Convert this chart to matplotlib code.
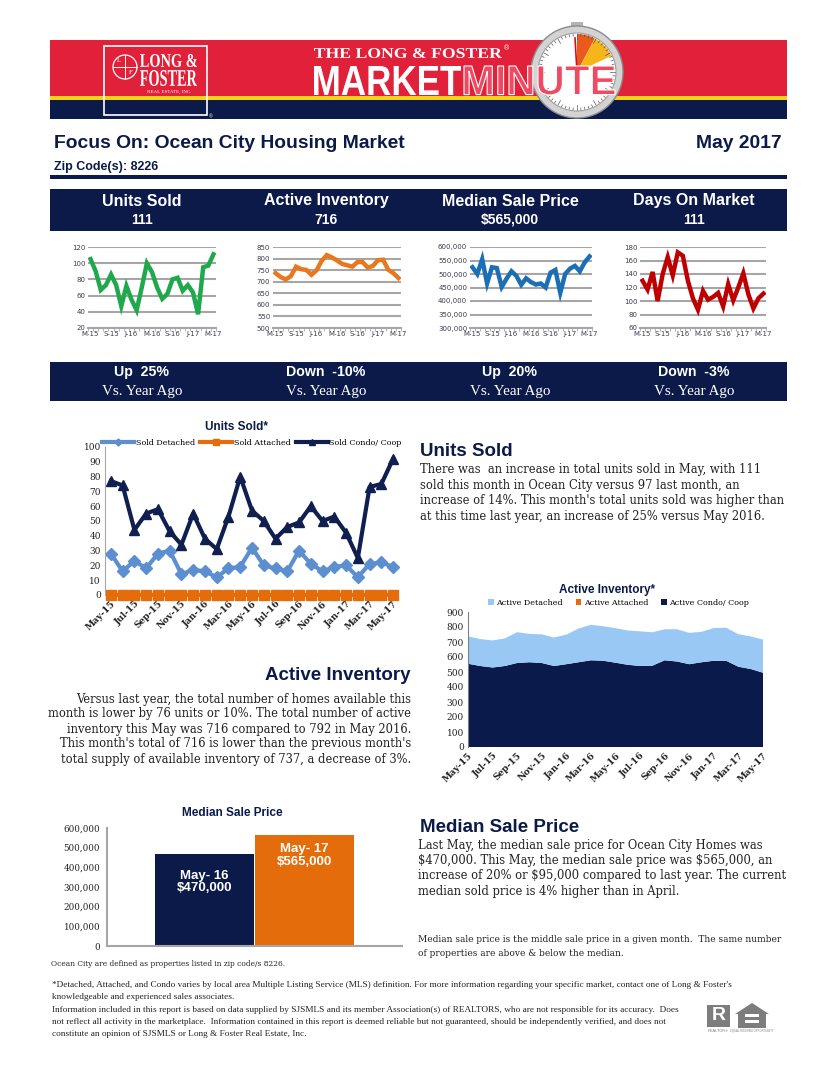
import math
import matplotlib.pyplot as plt
from matplotlib.font_manager import FontProperties
from matplotlib.patches import Rectangle, Circle, Wedge, Polygon, PathPatch
from matplotlib.textpath import TextPath
from matplotlib.transforms import Affine2D
from matplotlib.ticker import FuncFormatter, MultipleLocator

plt.rcParams['text.parse_math'] = False

W, H = 834, 1080
NAVY = '#0b1a48'
RED = '#e1203a'
ORANGE = '#e46c0a'
GRID = '#a6a6a6'
SANS = 'Liberation Sans'
SERIF = 'DejaVu Serif'
TIMES = 'Liberation Serif'

# ---------------- data ----------------
months = ['May-15', 'Jun-15', 'Jul-15', 'Aug-15', 'Sep-15', 'Oct-15', 'Nov-15', 'Dec-15',
          'Jan-16', 'Feb-16', 'Mar-16', 'Apr-16', 'May-16', 'Jun-16', 'Jul-16', 'Aug-16',
          'Sep-16', 'Oct-16', 'Nov-16', 'Dec-16', 'Jan-17', 'Feb-17', 'Mar-17', 'Apr-17', 'May-17']
spark_ticks = ['M-15', 'S-15', 'J-16', 'M-16', 'S-16', 'J-17', 'M-17']

units_total = [105, 90, 67, 73, 86, 73, 47, 72, 55, 42, 70, 100, 89, 70, 56, 62, 80, 82, 66, 73, 64, 37, 95, 97, 111]
inventory_total = [737, 720, 710, 724, 765, 754, 751, 730, 749, 790, 815, 805, 792, 777, 771, 765, 785, 785, 761, 768, 793, 795, 752, 737, 716]
median_price = [525000, 500000, 555000, 465000, 525000, 522000, 452000, 483000, 510000, 493000, 460000, 484000, 470000,
                461000, 465000, 450000, 505000, 515000, 430000, 500000, 520000, 530000, 510000, 543000, 565000]
days_on_market = [130, 117, 143, 100, 140, 165, 138, 172, 167, 130, 104, 87, 115, 102, 106, 112, 92, 125, 101, 120, 141, 110, 89, 104, 111]

sold_detached = [28, 16, 23, 18, 28, 30, 14, 17, 16, 12, 18, 19, 32, 20, 18, 16, 30, 21, 16, 19, 20, 12, 21, 22, 19]
sold_attached = [0, 0, 0, 0, 0, 0, 0, 0, 0, 0, 0, 0, 0, 0, 0, 0, 0, 0, 0, 0, 0, 0, 0, 0, 0]
sold_condo = [77, 74, 44, 55, 58, 43, 34, 55, 38, 31, 53, 80, 57, 50, 38, 46, 49, 60, 50, 53, 42, 25, 73, 75, 92]

active_detached = [182, 180, 180, 184, 205, 189, 191, 190, 197, 225, 237, 230, 230, 229, 231, 223, 207, 215, 209, 203, 218, 220, 217, 217, 221]
active_attached = [0, 0, 0, 0, 0, 0, 0, 0, 0, 0, 0, 0, 0, 0, 0, 0, 0, 0, 0, 0, 0, 0, 0, 0, 0]
active_condo = [555, 540, 530, 540, 560, 565, 560, 540, 552, 565, 578, 575, 562, 548, 540, 542, 578, 570, 552, 565, 575, 575, 535, 520, 495]

summary_titles = ['Units Sold', 'Active Inventory', 'Median Sale Price', 'Days On Market']
summary_values = ['111', '716', '$565,000', '111']
summary_change = ['Up  25%', 'Down  -10%', 'Up  20%', 'Down  -3%']

compare_labels = ['May- 16', 'May- 17']
compare_prices = [470000, 565000]

# ---------------- helpers ----------------
fig = plt.figure(figsize=(W / 100, H / 100), dpi=100)
fig.patch.set_facecolor('white')
bg = fig.add_axes([0, 0, 1, 1])
bg.set_xlim(0, W)
bg.set_ylim(H, 0)
bg.axis('off')


def box(x0, y0, x1, y1):
    return [x0 / W, 1 - y1 / H, (x1 - x0) / W, (y1 - y0) / H]


def rect(x0, y0, x1, y1, **kw):
    bg.add_patch(Rectangle((x0, y0), x1 - x0, y1 - y0, lw=0, **kw))


def squeeze(s, x0, y0, x1, y1, family=SANS, **kw):
    # text path stretched into a pixel box
    tp = TextPath((0, 0), s, size=100, prop=FontProperties(family=family, weight='bold'))
    bb = tp.get_extents()
    tr = Affine2D().translate(-bb.x0, -bb.y0).scale((x1 - x0) / bb.width, -(y1 - y0) / bb.height).translate(x0, y1)
    bg.add_patch(PathPatch(tr.transform_path(tp), **kw))


def put(x, y, s, size, family=SANS, weight='normal', color='#222222', **kw):
    kw.setdefault('va', 'center')
    bg.text(x, y, s, fontsize=size, family=family, weight=weight, color=color, **kw)


# ---------------- header ----------------
rect(50, 40, 787, 96, color=RED)
rect(50, 96, 787, 100, color='#f7d117')
rect(50, 100, 787, 119, color=NAVY)

bg.add_patch(Rectangle((104, 46), 103, 69, fill=False, ec='white', lw=1.2))
bg.add_patch(Circle((125, 67), 12, fill=False, ec='white', lw=0.9))
bg.plot([113, 137], [67, 67], color='white', lw=0.7)
bg.plot([125, 125], [55, 79], color='white', lw=0.7)
put(119, 61, 'L', 5, family=TIMES, color='white', ha='center')
put(131, 73, 'F', 5, family=TIMES, color='white', ha='center')
squeeze('LONG &', 140, 54, 197, 67, family=TIMES, fc='white', lw=0)
squeeze('FOSTER', 140, 70, 197, 86, family=TIMES, fc='white', lw=0)
put(169, 92, 'REAL ESTATE, INC.', 3.6, family=TIMES, color='white', ha='center')
put(211, 117, '®', 3.5, color='white', ha='center')

squeeze('THE LONG & FOSTER', 314, 48, 502, 58, family=TIMES, fc='white', lw=0)
put(507, 49, '®', 5, color='white', ha='center')

cx, cy = 577, 72
rect(571, 22, 583, 29, color='#b5b5b5', zorder=3)
bg.add_patch(Circle((cx, cy), 46, fc='#d3d3d3', ec='#8c8c8c', lw=1, zorder=3))
bg.add_patch(Circle((cx, cy), 39, fc='white', ec='#a0a0a0', lw=0.8, zorder=3))
bg.add_patch(Wedge((cx, cy), 38, 270, 298, fc='#ea5a1c', lw=0, zorder=3))
bg.add_patch(Wedge((cx, cy), 38, 298, 335, fc='#f6b61a', lw=0, zorder=3))
for k in range(60):
    a = math.radians(k * 6)
    r0 = 33 if k % 5 == 0 else 36
    bg.plot([cx + r0 * math.cos(a), cx + 38 * math.cos(a)], [cy + r0 * math.sin(a), cy + 38 * math.sin(a)],
            color='#555555', lw=0.5, zorder=3)
bg.plot([cx, cx - 2], [cy, cy - 34], color='#d01020', lw=1.2, zorder=3)

squeeze('MARKET', 314, 66, 461, 95, fc='white', lw=0, zorder=4)
squeeze('MINUTE', 464, 66, 615, 95, fc='#ee4a62', ec='white', lw=0.8, zorder=4)

# ---------------- title row ----------------
put(54, 143, 'Focus On: Ocean City Housing Market', 13.9, weight='bold', color=NAVY)
put(782, 143, 'May 2017', 13.9, weight='bold', color=NAVY, ha='right')
put(54, 167, 'Zip Code(s): 8226', 9, weight='bold', color=NAVY)
rect(50, 175, 787, 179, color=NAVY)

centers = [142, 326, 510, 694]
rect(50, 189, 787, 231, color=NAVY)
rect(50, 362, 787, 401, color=NAVY)
for c, t, v, ch in zip(centers, summary_titles, summary_values, summary_change):
    put(c, 201, t, 11.5, weight='bold', color='white', ha='center')
    put(c, 220, v, 10, weight='bold', color='white', ha='center')
    put(c, 372, ch, 10.2, weight='bold', color='white', ha='center')
    put(c, 391, 'Vs. Year Ago', 10.9, family=TIMES, color='white', ha='center')


# ---------------- sparkline charts ----------------
def spark(area, values, color, lo, hi, step, comma=False):
    ax = fig.add_axes(box(*area))
    n = len(values)
    ax.plot(range(n), values, color=color, lw=3.2, solid_joinstyle='miter')
    ax.set_xlim(-0.5, n - 0.5)
    ax.set_ylim(lo, hi)
    ax.yaxis.set_major_locator(MultipleLocator(step))
    if comma:
        ax.yaxis.set_major_formatter(FuncFormatter(lambda v, p: f'{v:,.0f}'))
    ax.grid(axis='y', color=GRID, lw=1.5)
    ax.set_axisbelow(True)
    for s in ['top', 'right', 'left']:
        ax.spines[s].set_visible(False)
    ax.spines['bottom'].set_color(GRID)
    ax.spines['bottom'].set_linewidth(1.5)
    ax.set_xticks(range(0, n, 4))
    ax.set_xticklabels(spark_ticks)
    ax.set_xticks([i - 0.5 for i in range(n + 1)], minor=True)
    ax.tick_params(axis='x', which='minor', length=2, color=GRID)
    ax.tick_params(axis='both', which='major', length=0, labelsize=5, labelcolor='#3c3c50', pad=2)
    return ax


spark((88, 247, 216, 328), units_total, '#1fa84c', 20, 120, 20)
spark((273, 247, 401, 328), inventory_total, '#e8781e', 500, 850, 50)
spark((470, 247, 592, 328), median_price, '#1b6fb5', 300000, 600000, 50000, comma=True)
spark((640, 247, 766, 328), days_on_market, '#c00000', 60, 180, 20)

x = range(len(months))

# ---------------- units sold chart ----------------
put(237, 427, 'Units Sold*', 8.5, weight='bold', color=NAVY, ha='center')
ax = fig.add_axes(box(105, 447, 399, 595))
ax.plot(x, sold_detached, color='#5b8fcf', lw=3, marker='D', ms=6, label='Sold Detached', clip_on=False)
ax.plot(x, sold_attached, color=ORANGE, lw=3, marker='s', ms=6.5, label='Sold Attached', clip_on=False)
ax.plot(x, sold_condo, color='#0f1f50', lw=3, marker='^', ms=7, label='Sold Condo/ Coop', clip_on=False)
ax.set_xlim(-0.5, len(months) - 0.5)
ax.set_ylim(0, 100)
ax.yaxis.set_major_locator(MultipleLocator(10))
ax.set_xticks(range(0, len(months), 2))
ax.set_xticklabels(months[::2], rotation=45, ha='right', rotation_mode='anchor',
                   fontsize=6.8, family=SERIF, weight='bold', color='#222222')
for lab in ax.get_yticklabels():
    lab.set_family(SERIF)
ax.tick_params(length=0, labelsize=6.5, labelcolor='#222222', pad=3)
for s in ['top', 'right', 'bottom']:
    ax.spines[s].set_visible(False)
ax.spines['left'].set_color(GRID)
ax.patch.set_alpha(0)
ax.legend(loc='center', bbox_to_anchor=(0.5, 1.027), ncol=3, frameon=False, handlelength=4,
          columnspacing=0.6, handletextpad=0.2, markerscale=0.6,
          prop=FontProperties(family=SERIF, size=5.8))

put(420, 451, 'Units Sold', 13.5, weight='bold', color=NAVY)
units_text = ["There was  an increase in total units sold in May, with 111",
              "sold this month in Ocean City versus 97 last month, an",
              "increase of 14%. This month's total units sold was higher than",
              "at this time last year, an increase of 25% versus May 2016."]
for i, line in enumerate(units_text):
    put(420, 470 + i * 15.4, line, 8.3, family=SERIF)

# ---------------- active inventory chart ----------------
put(607, 590, 'Active Inventory*', 8.5, weight='bold', color=NAVY, ha='center')
ax = fig.add_axes(box(468, 612, 763, 747))
polys = ax.stackplot(x, active_condo, active_attached, active_detached,
                     colors=['#0a1a4a', ORANGE, '#99c8f5'], lw=0)
ax.set_xlim(0, len(months) - 1)
ax.set_ylim(0, 900)
ax.yaxis.set_major_locator(MultipleLocator(100))
ax.set_xticks(range(0, len(months), 2))
ax.set_xticklabels(months[::2], rotation=45, ha='right', rotation_mode='anchor',
                   fontsize=6.8, family=SERIF, weight='bold', color='#222222')
for lab in ax.get_yticklabels():
    lab.set_family(SERIF)
ax.tick_params(length=0, labelsize=6.5, labelcolor='#222222', pad=3)
for s in ['top', 'right', 'bottom']:
    ax.spines[s].set_visible(False)
ax.spines['left'].set_color('#808080')
ax.legend([polys[2], polys[1], polys[0]], ['Active Detached', 'Active Attached', 'Active Condo/ Coop'],
          loc='center', bbox_to_anchor=(0.51, 1.067), ncol=3, frameon=False, handlelength=0.7,
          handleheight=0.7, columnspacing=1.6, handletextpad=0.3,
          prop=FontProperties(family=SERIF, size=5.8))

put(411, 675, 'Active Inventory', 13.5, weight='bold', color=NAVY, ha='right')
inv_text = ["Versus last year, the total number of homes available this",
            "month is lower by 76 units or 10%. The total number of active",
            "inventory this May was 716 compared to 792 in May 2016.",
            "This month's total of 716 is lower than the previous month's",
            "total supply of available inventory of 737, a decrease of 3%."]
for i, line in enumerate(inv_text):
    put(411, 699 + i * 15, line, 8.3, family=SERIF, ha='right')

# ---------------- median sale price chart ----------------
put(232, 813, 'Median Sale Price', 8.5, weight='bold', color=NAVY, ha='center')
ax = fig.add_axes(box(107, 828, 402, 946))
ax.bar(range(2), compare_prices, width=1.0, color=[NAVY, ORANGE])
ax.set_xlim(-0.98, 1.98)
ax.set_ylim(0, 600000)
ax.yaxis.set_major_locator(MultipleLocator(100000))
ax.yaxis.set_major_formatter(FuncFormatter(lambda v, p: f'{v:,.0f}'))
ax.set_xticks([])
for lab in ax.get_yticklabels():
    lab.set_family(SERIF)
ax.tick_params(length=0, labelsize=6.3, labelcolor='#222222', pad=5)
for s in ['top', 'right']:
    ax.spines[s].set_visible(False)
for s in ['left', 'bottom']:
    ax.spines[s].set_color(GRID)
    ax.spines[s].set_linewidth(1.5)
label_drop = [-16, -8]
for i, (lab, v) in enumerate(zip(compare_labels, compare_prices)):
    ax.annotate(f'{lab}\n${v:,.0f}', (i, v), xytext=(0, label_drop[i]), textcoords='offset pixels',
                ha='center', va='top', color='white', fontsize=9.5, weight='bold', family=SANS,
                linespacing=1.1)

put(420, 827, 'Median Sale Price', 13.5, weight='bold', color=NAVY)
med_text = ["Last May, the median sale price for Ocean City Homes was",
            "$470,000. This May, the median sale price was $565,000, an",
            "increase of 20% or $95,000 compared to last year. The current",
            "median sold price is 4% higher than in April."]
for i, line in enumerate(med_text):
    put(418, 845 + i * 15.4, line, 8.3, family=SERIF)
put(418, 940, 'Median sale price is the middle sale price in a given month.  The same number', 6.5, family=SERIF)
put(418, 953, 'of properties are above & below the median.', 6.5, family=SERIF)

# ---------------- footer ----------------
put(51, 964, 'Ocean City are defined as properties listed in zip code/s 8226.', 5.4, family=SERIF)
footer = ["*Detached, Attached, and Condo varies by local area Multiple Listing Service (MLS) definition. For more information regarding your specific market, contact one of Long & Foster's",
          "knowledgeable and experienced sales associates.",
          "Information included in this report is based on data supplied by SJSMLS and its member Association(s) of REALTORS, who are not responsible for its accuracy.  Does",
          "not reflect all activity in the marketplace.  Information contained in this report is deemed reliable but not guaranteed, should be independently verified, and does not",
          "constitute an opinion of SJSMLS or Long & Foster Real Estate, Inc."]
for i, line in enumerate(footer):
    put(52, 985 + i * 12.3, line, 6.65, family=TIMES)

rect(707, 1005, 730, 1027, color='#7d7d7d')
put(718.5, 1016, 'R', 14, weight='bold', color='white', ha='center')
put(718.5, 1031, 'REALTOR®', 2.8, color='#7d7d7d', ha='center')
bg.add_patch(Polygon([(735, 1014), (752, 1003), (769, 1014), (766, 1014), (766, 1028), (738, 1028), (738, 1014)],
                     closed=True, fc='#7d7d7d', lw=0))
rect(745, 1014, 759, 1017, color='white')
rect(745, 1020, 759, 1023, color='white')
put(752, 1031, 'EQUAL HOUSING OPPORTUNITY', 2.0, color='#7d7d7d', ha='center')

fig.savefig('out.png', dpi=100, facecolor='white')
